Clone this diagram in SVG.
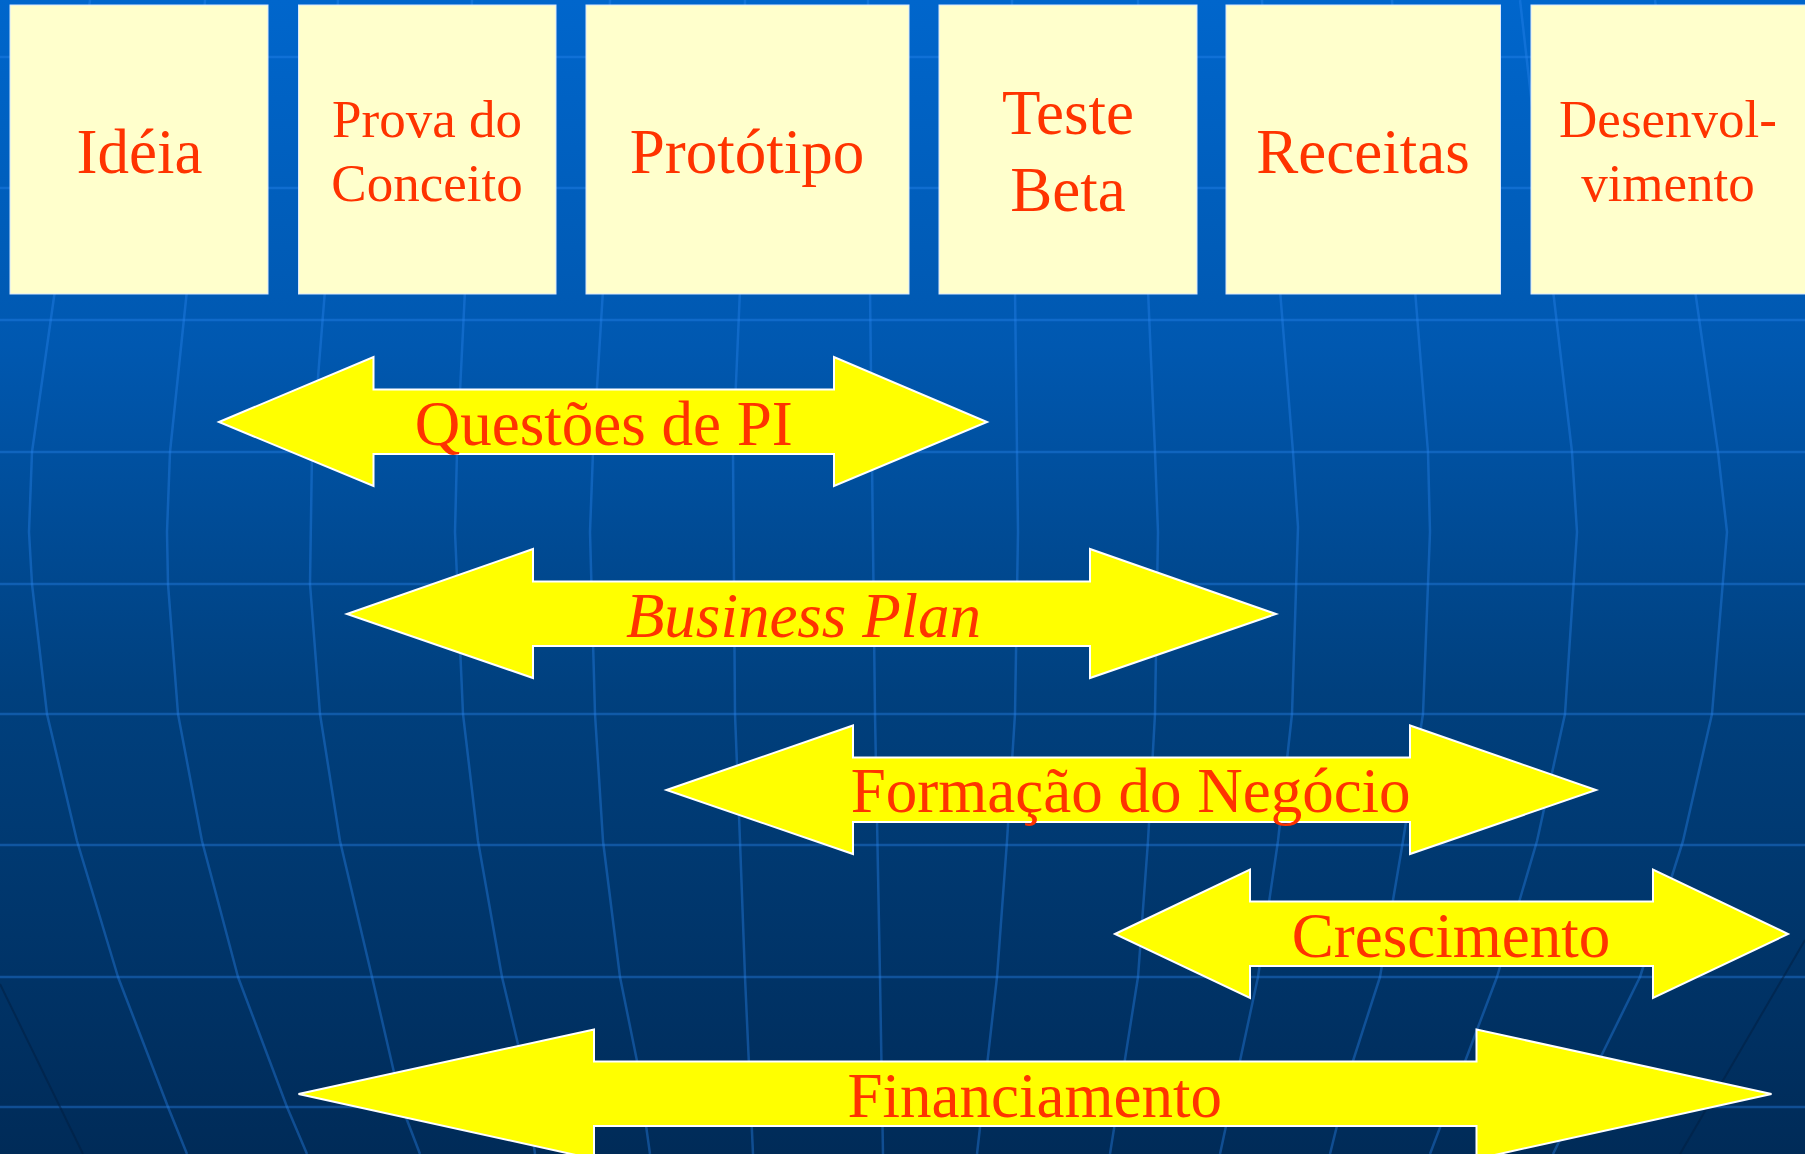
<svg xmlns="http://www.w3.org/2000/svg" width="1805" height="1154" viewBox="0 0 1805 1154">
<defs>
<linearGradient id="bg" x1="0" y1="0" x2="0" y2="1">
<stop offset="0" stop-color="#0066CC"/>
<stop offset="0.3" stop-color="#0058B0"/>
<stop offset="0.6" stop-color="#00407E"/>
<stop offset="1" stop-color="#002B58"/>
</linearGradient>
</defs>
<style>
.grid{fill:none;stroke:#2B86F0;stroke-opacity:0.38;stroke-width:2.5;stroke-linejoin:round}
.dark{fill:none;stroke:#001E40;stroke-opacity:0.5;stroke-width:2}
.box{fill:#FFFFCC;stroke:#D8E8FF;stroke-width:1}
.arrow{fill:#FFFF00;stroke:#FFFFFF;stroke-width:2;stroke-linejoin:miter}
.t{font-family:"Liberation Serif","Times New Roman",serif;fill:#FF3300;text-anchor:middle}
.big{font-size:63px}
.mid{font-size:53px}
.it{font-style:italic}
</style>
<rect x="0" y="0" width="1805" height="1154" fill="url(#bg)"/>
<g id="background-grid">
<path class="grid" d="M0 57H1805M0 188H1805M0 320H1805M0 452H1805M0 584H1805M0 714H1805M0 845H1805M0 977H1805M0 1107H1805"/>
<polyline class="grid" points="90,0 55,290 32,452 29,532 32,584 47,714 77,841 118,977 168,1107 187,1154"/>
<polyline class="grid" points="205,0 187,290 170,452 167,532 168,584 178,714 202,841 238,977 287,1107 307,1154"/>
<polyline class="grid" points="338,0 325,290 312,452 310,584 320,714 340,841 372,977 402,1107 420,1154"/>
<polyline class="grid" points="472,0 465,290 457,452 455,532 463,714 478,841 502,977 522,1061 535,1154"/>
<polyline class="grid" points="610,0 603,290 593,452 590,532 595,714 603,841 620,977 637,1061 650,1154"/>
<polyline class="grid" points="745,0 740,290 733,452 735,714 740,841 745,977 753,1154"/>
<polyline class="grid" points="868,0 870,290 875,714 880,977 883,1154"/>
<polyline class="grid" points="1012,0 1015,290 1017,452 1018,532 1015,714 1007,841 997,977 977,1154"/>
<polyline class="grid" points="1138,0 1148,290 1155,452 1158,532 1155,714 1148,841 1138,977 1110,1154"/>
<polyline class="grid" points="1262,0 1280,290 1293,452 1298,527 1292,714 1278,841 1258,977 1220,1154"/>
<polyline class="grid" points="1392,0 1415,290 1428,452 1430,532 1423,714 1403,841 1380,977 1353,1061 1330,1154"/>
<polyline class="grid" points="1520,0 1553,290 1572,452 1577,532 1565,714 1537,841 1497,977 1430,1154"/>
<polyline class="grid" points="1655,0 1695,290 1718,452 1727,532 1712,714 1683,841 1640,977 1553,1154"/>
<path class="dark" d="M0 984L83 1154M1805 940L1680 1154"/>
</g>
<g id="node-ideia">
<rect class="box" x="10" y="5" width="258" height="289"/>
<text class="t big" x="139.5" y="173">Idéia</text>
</g>
<g id="node-prova">
<rect class="box" x="298.5" y="5" width="257.5" height="289"/>
<text class="t mid" x="427" y="137">Prova do</text>
<text class="t mid" x="427" y="201">Conceito</text>
</g>
<g id="node-prototipo">
<rect class="box" x="586" y="5" width="323" height="289"/>
<text class="t big" x="747" y="173">Protótipo</text>
</g>
<g id="node-teste">
<rect class="box" x="939" y="5" width="258" height="289"/>
<text class="t big" x="1068" y="134">Teste</text>
<text class="t big" x="1068" y="211">Beta</text>
</g>
<g id="node-receitas">
<rect class="box" x="1226" y="5" width="274.5" height="289"/>
<text class="t big" x="1363" y="173">Receitas</text>
</g>
<g id="node-desenvolvimento">
<rect class="box" x="1531" y="5" width="280" height="289"/>
<text class="t mid" x="1668" y="137">Desenvol-</text>
<text class="t mid" x="1668" y="201">vimento</text>
</g>
<g id="connectors">
<g id="arrow-questoes">
<polygon class="arrow" points="219,422 373.5,357 373.5,389.5 834,389.5 834,357 987,422 834,486 834,454 373.5,454 373.5,486"/>
<text class="t big" x="603.7" y="445">Questões de PI</text>
</g>
<g id="arrow-business">
<polygon class="arrow" points="347,614 533,549 533,581.5 1090,581.5 1090,549 1276,614 1090,678 1090,646 533,646 533,678"/>
<text class="t big it" x="803.5" y="637">Business Plan</text>
</g>
<g id="arrow-formacao">
<polygon class="arrow" points="666.5,790 853,725.5 853,757.5 1410,757.5 1410,725.5 1596,790 1410,854 1410,822 853,822 853,854"/>
<text class="t big" x="1130.7" y="812">Formação do Negócio</text>
</g>
<g id="arrow-crescimento">
<polygon class="arrow" points="1115,934 1250,869.5 1250,901.5 1653,901.5 1653,869.5 1788,934 1653,998 1653,966 1250,966 1250,998"/>
<text class="t big" x="1451" y="957">Crescimento</text>
</g>
<g id="arrow-financiamento">
<polygon class="arrow" points="298.5,1094 594,1029.5 594,1061.5 1476.5,1061.5 1476.5,1029.5 1771.5,1094 1476.5,1159 1476.5,1126 594,1126 594,1159"/>
<text class="t big" x="1034.7" y="1117">Financiamento</text>
</g>
</g>
</svg>
